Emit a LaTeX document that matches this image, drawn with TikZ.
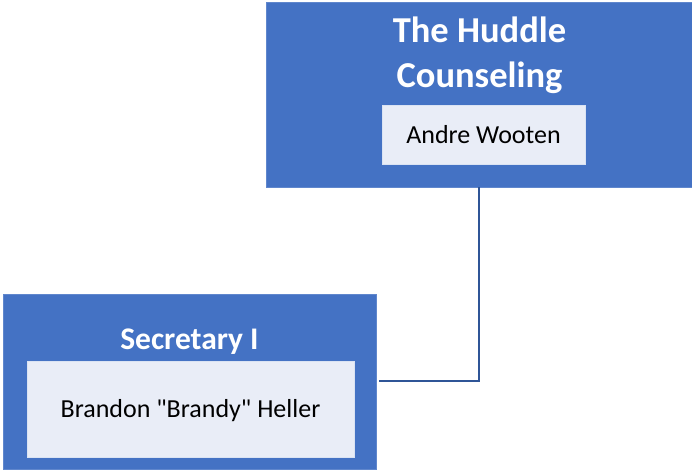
\documentclass[tikz,border=0pt]{standalone}
\usepackage{fontspec}
\setmainfont{Carlito}
\definecolor{boxblue}{HTML}{4472C4}
\definecolor{innerfill}{HTML}{E9EDF7}
\definecolor{linkblue}{HTML}{2F5597}
\begin{document}
\begin{tikzpicture}[x=1pt,y=1pt,
  outerbox/.style={draw=boxblue!85!white,line width=0.6pt,fill=boxblue,inner sep=0pt},
  innerbox/.style={draw=white!80!boxblue,line width=0.6pt,fill=innerfill,inner sep=0pt},
  titletext/.style={anchor=base,text=white,font=\bfseries\fontsize{36.5}{44}\selectfont,inner sep=0pt},
  subtitletext/.style={anchor=base,text=white,font=\bfseries\fontsize{31.5}{38}\selectfont,inner sep=0pt},
  nametext/.style={anchor=base,text=black,font=\fontsize{26}{31}\selectfont,inner sep=0pt},
  link/.style={draw=linkblue,line width=2pt}]
\useasboundingbox (0,0) rectangle (692,470);
% top box
\node[outerbox,minimum width=426pt,minimum height=185pt] (top) at (479,375.5) {};
\node[innerbox,minimum width=203pt,minimum height=59pt] (topin) at (483.5,335.5) {};
\node[titletext] (t1) at (479.5,427) {The Huddle};
\node[titletext] (t2) at (479.5,382) {Counseling};
\node[nametext] (n1) at (483.5,326) {Andre Wooten};
% bottom box
\node[outerbox,minimum width=373pt,minimum height=175pt] (bot) at (189.5,88.5) {};
\node[innerbox,minimum width=327pt,minimum height=96pt] (botin) at (190.5,61) {};
\node[subtitletext] (t3) at (189.5,120) {Secretary I};
\node[nametext] (n2) at (190.5,52) {Brandon \textquotedbl Brandy\textquotedbl{} Heller};
% connector
\coordinate (end) at ([xshift=3pt]bot.east);
\draw[link] (top.south) |- (end);
\end{tikzpicture}
\end{document}
